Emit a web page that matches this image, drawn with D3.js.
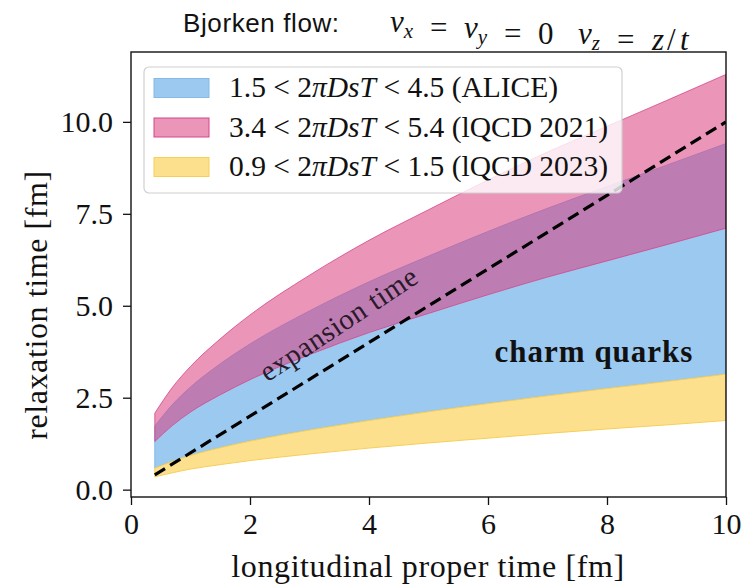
<html>
<head>
<script src="https://d3js.org/d3.v7.min.js"></script>
<style>
body { margin: 0; background: #fff; }
svg { display: block; }
text { font-family: 'Liberation Serif', 'DejaVu Serif', serif; fill: #111; }
</style>
</head>
<body>
<svg width="744" height="585"></svg>
<script>
// proper time grid (fm) and band edges (fm)
var tau        = [0.4, 0.7, 1, 1.5, 2, 3, 4, 5, 6, 7, 8, 9, 10];
var aliceLow   = [0.58, 0.77, 0.93, 1.14, 1.32, 1.62, 1.88, 2.12, 2.34, 2.55, 2.75, 2.94, 3.14];
var aliceHigh  = [1.73, 2.32, 2.79, 3.42, 3.96, 4.86, 5.65, 6.35, 7.02, 7.65, 8.24, 8.82, 9.41];
var lqcd21Low  = [1.31, 1.75, 2.11, 2.58, 2.99, 3.67, 4.27, 4.79, 5.30, 5.78, 6.22, 6.66, 7.11];
var lqcd21High = [2.08, 2.79, 3.35, 4.10, 4.75, 5.83, 6.78, 7.61, 8.42, 9.18, 9.88, 10.58, 11.29];
var lqcd23Low  = [0.35, 0.46, 0.56, 0.68, 0.79, 0.97, 1.13, 1.27, 1.40, 1.53, 1.65, 1.76, 1.88];
var lqcd23High = aliceLow;  // both bounds are 2piDsT = 1.5

var xTicks = [0, 2, 4, 6, 8, 10];
var yTicks = [0, 2.5, 5, 7.5, 10];

var svg = d3.select("svg");
// note: "top" is taken by window.top, so plot edges get their own names
var plotL = 131, plotR = 726, plotT = 52, plotB = 497;

var x = d3.scaleLinear().domain([0, 10]).range([plotL, plotR]);
var y = d3.scaleLinear().domain([-0.2, 11.9]).range([plotB, plotT]);

svg.append("clipPath").attr("id", "plotclip")
  .append("rect").attr("x", plotL).attr("y", plotT).attr("width", plotR - plotL).attr("height", plotB - plotT);

var plot = svg.append("g").attr("clip-path", "url(#plotclip)");

function band(low, high) {
  return d3.area()
    .x(function (d, i) { return x(tau[i]); })
    .y0(function (d, i) { return y(low[i]); })
    .y1(function (d, i) { return y(high[i]); })
    .curve(d3.curveMonotoneX)(tau);
}

plot.append("path").attr("d", band(aliceLow, aliceHigh))
  .style("fill", "#9cc9f0").style("stroke", "#84b9e8").style("stroke-width", 1);
plot.append("path").attr("d", band(lqcd21Low, lqcd21High))
  .style("fill", "rgb(218,62,128)").style("fill-opacity", 0.55)
  .style("stroke", "#d4468a").style("stroke-opacity", 0.8).style("stroke-width", 1);
plot.append("path").attr("d", band(lqcd23Low, lqcd23High))
  .style("fill", "#fde08d").style("stroke", "#f6cf5a").style("stroke-width", 1);

// expansion time = proper time
plot.append("line")
  .attr("x1", x(0.4)).attr("y1", y(0.4)).attr("x2", x(10)).attr("y2", y(10))
  .style("stroke", "#000").style("stroke-width", 3.2).style("stroke-dasharray", "12,6");

plot.append("text")
  .attr("transform", "translate(344,332) rotate(-33.5)")
  .attr("text-anchor", "middle")
  .style("font-size", "29px").style("fill", "#2a1a2a").style("letter-spacing", "0.5px")
  .text("expansion time");

plot.append("text")
  .attr("x", 594).attr("y", 362)
  .attr("text-anchor", "middle")
  .style("font-size", "31px").style("font-weight", "bold").style("letter-spacing", "1px")
  .text("charm quarks");

// axes
var xAxis = d3.axisBottom(x).tickValues(xTicks).tickSize(8).tickPadding(8)
  .tickFormat(d3.format("d"));
var yAxis = d3.axisLeft(y).tickValues(yTicks).tickSize(8).tickPadding(10)
  .tickFormat(d3.format(".1f"));

var gx = svg.append("g").attr("transform", "translate(0," + plotB + ")").call(xAxis);
var gy = svg.append("g").attr("transform", "translate(" + plotL + ",0)").call(yAxis);
[gx, gy].forEach(function (g) {
  g.select(".domain").remove();
  g.selectAll("line").style("stroke", "#111").style("stroke-width", 1.3);
  g.selectAll("text").style("font-family", "'Liberation Serif', serif")
    .style("font-size", "30px").style("fill", "#111");
});

svg.append("rect").attr("x", plotL).attr("y", plotT)
  .attr("width", plotR - plotL).attr("height", plotB - plotT)
  .style("fill", "none").style("stroke", "#111").style("stroke-width", 1.4);

svg.append("text").attr("x", 428).attr("y", 577)
  .attr("text-anchor", "middle").style("font-size", "32px").style("letter-spacing", "0.6px")
  .text("longitudinal proper time [fm]");

svg.append("text").attr("transform", "translate(47,305) rotate(-90)")
  .attr("text-anchor", "middle").style("font-size", "32px").style("letter-spacing", "0.6px")
  .text("relaxation time [fm]");

// legend
var legendRows = [
  {lo: "1.5", hi: "4.5", tag: "(ALICE)", fill: "#9cc9f0", op: 1, stroke: "#84b9e8"},
  {lo: "3.4", hi: "5.4", tag: "(lQCD 2021)", fill: "rgb(218,62,128)", op: 0.55, stroke: "#d4468a"},
  {lo: "0.9", hi: "1.5", tag: "(lQCD 2023)", fill: "#fde08d", op: 1, stroke: "#f6cf5a"}
];

svg.append("rect").attr("x", 144).attr("y", 67).attr("width", 478).attr("height", 126)
  .attr("rx", 5).style("fill", "#fff").style("fill-opacity", 0.8)
  .style("stroke", "#d0d0d0").style("stroke-width", 1.2);

legendRows.forEach(function (r, i) {
  var cy = 88 + i * 39.5;
  svg.append("rect").attr("x", 154).attr("y", cy - 9.5).attr("width", 55).attr("height", 19)
    .style("fill", r.fill).style("fill-opacity", r.op).style("stroke", r.stroke);
  var t = svg.append("text").attr("x", 229).attr("y", cy + 9).style("font-size", "29.5px");
  t.append("tspan").text(r.lo + " < 2");
  t.append("tspan").style("font-style", "italic").text("πDsT");
  t.append("tspan").text(" < " + r.hi + " " + r.tag);
});

// title
svg.append("text").attr("x", 183).attr("y", 32)
  .style("font-family", "'Liberation Sans', Arial, sans-serif").style("font-size", "26px")
  .style("letter-spacing", "0.6px")
  .text("Bjorken flow:");

var m = svg.append("text").attr("y", 32).style("font-size", "31px");
function piece(px, s, italic) {
  m.append("tspan").attr("x", px).style("font-style", italic ? "italic" : "normal").text(s);
}
function sub(s) {
  m.append("tspan").attr("dy", 6).style("font-style", "italic").style("font-size", "21px").text(s);
  m.append("tspan").attr("dy", -6).text("");
}
piece(390, "v", true); sub("x");
piece(430, "=", false);
piece(464, "v", true); sub("y");
piece(504, "=", false);
piece(538, "0", false);
piece(578, "v", true); sub("z");
piece(617, "=", false);
piece(652, "z", true);
piece(667, "/", false);
piece(680, "t", true);
</script>
</body>
</html>
